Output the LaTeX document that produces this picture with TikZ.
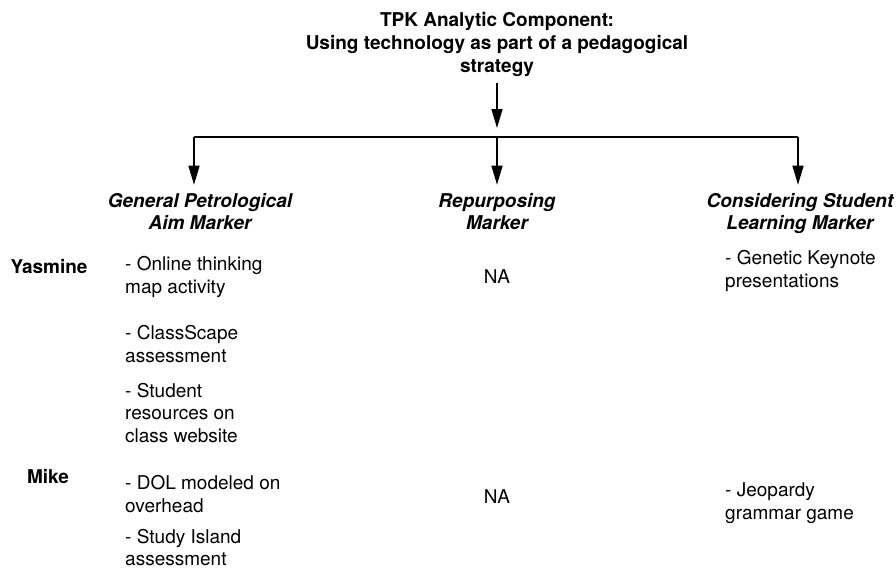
\documentclass[tikz,border=0pt]{standalone}
\usepackage{fontspec}
\setmainfont{TeX Gyre Heros}
\usetikzlibrary{arrows.meta,calc}
\tikzset{
  txt/.style={font=\fontsize{19}{22.5}\selectfont, inner sep=0pt, align=left, anchor=base west},
  hdr/.style={font=\fontsize{19}{22}\selectfont\bfseries\itshape, inner sep=0pt, align=center, anchor=base},
  pname/.style={font=\fontsize{19}{22.5}\selectfont\bfseries, inner sep=0pt, anchor=base},
  natxt/.style={font=\fontsize{19}{22.5}\selectfont, inner sep=0pt, anchor=base},
  ttl/.style={font=\fontsize{19}{23}\selectfont\bfseries, inner sep=0pt, align=center, anchor=base},
  arr/.style={-{Triangle[length=19pt,width=11pt]}, line width=1.4pt},
  ln/.style={line width=1.4pt}
}
\begin{document}
\begin{tikzpicture}[x=1pt,y=-1pt]
\useasboundingbox (0,0) rectangle (896,568);
% title (base anchor = last line baseline)
\node[ttl] (title) at (497,72) {TPK Analytic Component:\\Using technology as part of a pedagogical\\strategy};
% hub
\coordinate (hub) at (497,137);
\coordinate (c1) at (194,137);
\coordinate (c3) at (798,137);
% headers
\node[hdr] (h1) at (200,229) {General Petrological\\Aim Marker};
\node[hdr] (h2) at (497,229) {Repurposing\\Marker};
\node[hdr] (h3) at (800,229) {Considering Student\\Learning Marker};
% connectors
\draw[arr, shorten <=7pt, shorten >=9pt] (title.south) -- (hub);
\draw[ln] (c1) -- (c3);
\draw[arr, shorten >=8pt] (c1) -- (c1 |- h1.north);
\draw[arr, shorten >=8pt] (hub) -- (hub |- h2.north);
\draw[arr, shorten >=8pt] (c3) -- (c3 |- h3.north);
% people
\node[pname] (yas) at (49,273) {Yasmine};
\node[pname] (mike) at (48,483) {Mike};
% column 1
\node[txt] (y1) at (125,293) {- Online thinking\\map activity};
\node[txt] (y2) at (125,362) {- ClassScape\\assessment};
\node[txt] (y3) at (125,442) {- Student\\resources on\\class website};
\node[txt] (m1) at (125,512) {- DOL modeled on\\overhead};
\node[txt] (m2) at (125,565.5) {- Study Island\\assessment};
% column 2
\node[natxt] (yna) at (497,283) {NA};
\node[natxt] (mna) at (497,503) {NA};
% column 3
\node[txt] (y4) at (725,287) {- Genetic Keynote\\presentations};
\node[txt] (m3) at (725,519) {- Jeopardy\\grammar game};
\end{tikzpicture}
\end{document}
